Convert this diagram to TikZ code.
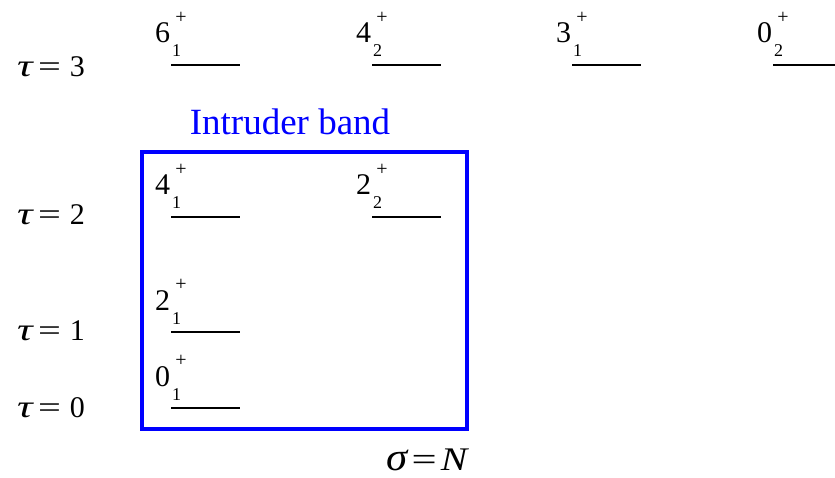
\documentclass[tikz,border=0pt]{standalone}
\usepackage{fontspec}
\setmainfont{Liberation Serif}
\definecolor{bandblue}{RGB}{0,0,255}
\tikzset{
  lvl/.style={line width=2.4pt, black},
  dig/.style={inner sep=0pt, anchor=base west, font=\fontsize{30}{30}\selectfont},
  sub/.style={inner sep=0pt, anchor=base west, font=\fontsize{18}{18}\selectfont},
  plus/.style={inner sep=0pt, anchor=center, font=\fontsize{20}{20}\selectfont},
  taulab/.style={inner sep=0pt, anchor=base west, font=\fontsize{30}{30}\selectfont},
  bandbox/.style={draw=bandblue, line width=4pt, miter limit=10},
}
\newcommand\levelmark[5]{%
  \coordinate (#1a) at (#2,#3);
  \coordinate (#1b) at ({#2+69},#3);
  \draw[lvl] (#1a) -- (#1b);
  \node[dig] (#1j) at ({#2-16},{#3-22}) {#4};
  \node[sub] (#1k) at ({#2+1},{#3-8}) {#5};
  \node[plus] (#1p) at ({#2+10},{#3-47}) {+};
}
\newcommand\taumark[3]{%
  \node[taulab] (#1) at (17,#2) {\scalebox{1.45}[1.05]{\textit{τ}}\hspace{4pt}\scalebox{1.35}[1]{=}\hspace{9pt}#3};
}
\begin{document}
\begin{tikzpicture}[x=1pt,y=-1pt]
  \useasboundingbox (0,0) rectangle (835,478);
  \clip (0,0) rectangle (835,478);
  % tau labels
  \taumark{t3}{77}{3}
  \taumark{t2}{225}{2}
  \taumark{t1}{340}{1}
  \taumark{t0}{417}{0}
  % levels
  \levelmark{sixone}{171}{65}{6}{1}
  \levelmark{fourtwo}{372}{65}{4}{2}
  \levelmark{threeone}{572}{65}{3}{1}
  \levelmark{zerotwo}{773}{65}{0}{2}
  \levelmark{fourone}{171}{217}{4}{1}
  \levelmark{twotwo}{372}{217}{2}{2}
  \levelmark{twoone}{171}{332}{2}{1}
  \levelmark{zeroone}{171}{408}{0}{1}
  % intruder band box
  \coordinate (boxnw) at (141.5,152.5);
  \coordinate (boxse) at (466.5,429);
  \draw[bandbox] (boxnw) rectangle (boxse);
  \node[inner sep=0pt, anchor=base, text=bandblue, font=\fontsize{37}{37}\selectfont] (band) at (290,135) {Intruder band};
  % sigma label
  \node[inner sep=0pt, anchor=base west, font=\fontsize{33}{33}\selectfont] (sigma) at (386,470) {\scalebox{1.3}[1.2]{\textit{σ}}\hspace{3pt}\scalebox{1.35}[1]{=}\hspace{4pt}\scalebox{1.2}[1]{\textit{N}}};
\end{tikzpicture}
\end{document}
